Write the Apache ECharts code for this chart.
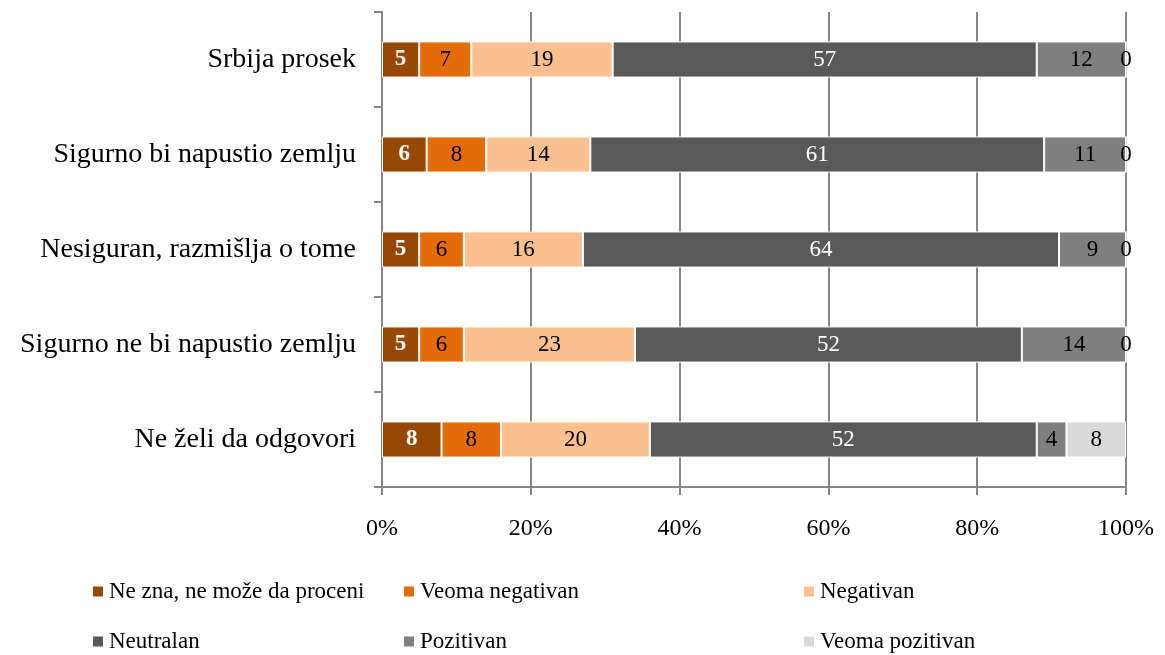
<!DOCTYPE html>
<html>
<head>
<meta charset="utf-8">
<script src="https://cdn.jsdelivr.net/npm/echarts@6/dist/echarts.min.js"></script>
<style>
  html, body { margin: 0; padding: 0; background: #fff; }
  #chart { width: 1165px; height: 655px; }
</style>
</head>
<body>
<div id="chart"></div>
<script>
'use strict';
{
    let categories = ['Srbija prosek', 'Sigurno bi napustio zemlju', 'Nesiguran, razmišlja o tome', 'Sigurno ne bi napustio zemlju', 'Ne želi da odgovori'];
    let seriesNames = ['Ne zna, ne može da proceni', 'Veoma negativan', 'Negativan', 'Neutralan', 'Pozitivan', 'Veoma pozitivan'];
    let neZna = [5, 6, 5, 5, 8];
    let veomaNeg = [7, 8, 6, 6, 8];
    let negativan = [19, 14, 16, 23, 20];
    let neutralan = [57, 61, 64, 52, 52];
    let pozitivan = [12, 11, 9, 14, 4];
    let veomaPoz = [0, 0, 0, 0, 8];
    let xTicks = [0, 20, 40, 60, 80, 100];

    let colors = ['#974706', '#E36C09', '#FAC08F', '#595959', '#7F7F7F', '#D9D9D9'];
    let labelColors = ['#fff', '#000', '#000', '#fff', '#000', '#000'];
    let values = [neZna, veomaNeg, negativan, neutralan, pozitivan, veomaPoz];
    let font = '"Liberation Serif", "DejaVu Serif", serif';

    // legend spots: 3 columns x 2 rows
    let legendLeft = [91, 402, 802, 91, 402, 802];
    let legendTop = [580, 580, 580, 630, 630, 630];

    let dom = document.getElementById('chart');
    let myChart = echarts.init(dom);

    let series = seriesNames.map(function (name, k) {
        return {
            name: name,
            type: 'bar',
            stack: 'total',
            barWidth: '38%',
            data: values[k],
            itemStyle: {
                color: colors[k],
                borderColor: '#fff',
                borderWidth: 1
            },
            label: {
                show: true,
                position: 'inside',
                color: labelColors[k],
                fontFamily: font,
                fontSize: 23,
                fontWeight: k === 0 ? 'bold' : 'normal'
            }
        };
    });

    let legends = seriesNames.map(function (name, k) {
        return {
            data: [name],
            left: legendLeft[k],
            top: legendTop[k],
            padding: 0,
            itemWidth: 12,
            itemHeight: 12,
            itemGap: 4,
            icon: 'rect',
            selectedMode: false,
            textStyle: {
                color: '#000',
                fontFamily: font,
                fontSize: 23
            }
        };
    });

    let option = {
        animation: false,
        color: colors,
        backgroundColor: '#fff',
        grid: {
            left: 382,
            right: 39,
            top: 12,
            bottom: 168
        },
        legend: legends,
        xAxis: {
            type: 'value',
            min: xTicks[0],
            max: xTicks[xTicks.length - 1],
            interval: 20,
            axisLine: { show: true, lineStyle: { color: '#868686', width: 2 } },
            axisTick: { show: true, length: 8, lineStyle: { color: '#868686', width: 2 } },
            splitLine: { show: true, lineStyle: { color: '#868686', width: 2 } },
            axisLabel: {
                color: '#000',
                fontFamily: font,
                fontSize: 24,
                margin: 30,
                formatter: '{value}%'
            }
        },
        yAxis: {
            type: 'category',
            inverse: true,
            data: categories,
            axisLine: { show: true, lineStyle: { color: '#868686', width: 2 } },
            axisTick: { show: true, length: 8, lineStyle: { color: '#868686', width: 2 } },
            axisLabel: {
                color: '#000',
                fontFamily: font,
                fontSize: 28,
                margin: 26
            }
        },
        series: series
    };

    myChart.setOption(option, true);
}
</script>
</body>
</html>
